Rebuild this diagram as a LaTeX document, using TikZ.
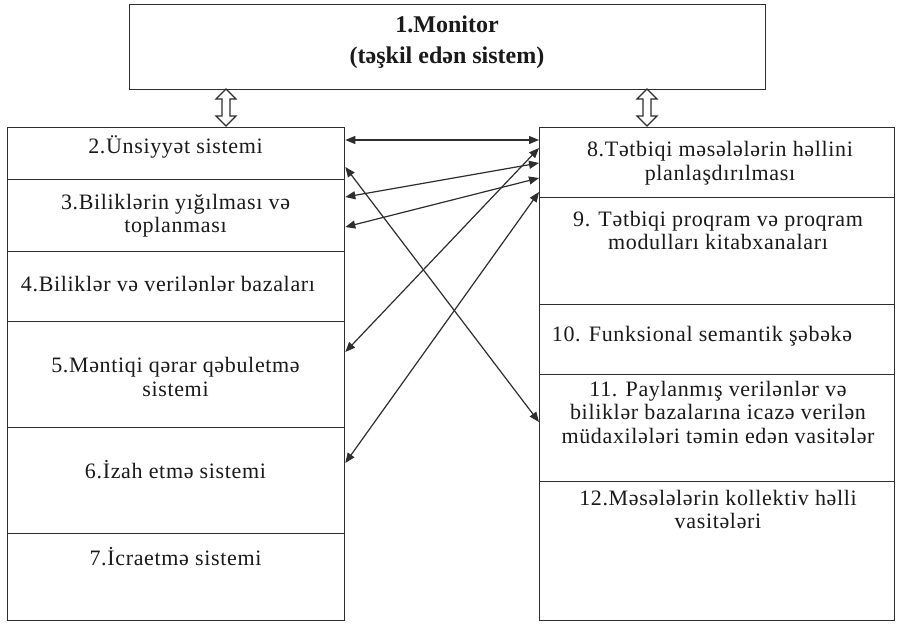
\documentclass[tikz,border=0pt]{standalone}
\usepackage{fontspec}
\setmainfont{Liberation Serif}
\newfontfamily\bodyfont[LetterSpace=3]{Liberation Serif}
\usetikzlibrary{arrows.meta,calc}

\definecolor{ink}{HTML}{1A1A1A}
\definecolor{rule}{HTML}{2E2E2E}

\tikzset{
  box/.style={draw=rule, line width=1.3pt, fill=white, anchor=north west, inner sep=0pt},
  label/.style={align=center, inner sep=0pt, text=ink,
    font=\bodyfont\fontsize{22}{23.5}\selectfont},
  headlabel/.style={align=center, inner sep=0pt, text=ink,
    font=\bfseries\fontsize{24}{31}\selectfont},
  link/.style={draw=rule, line width=1.2pt,
    {Triangle[length=10pt,width=8pt]}-{Triangle[length=10pt,width=8pt]}},
  hollow/.pic={
    \draw[rule, line width=1.1pt, fill=white, line join=miter]
      (0,0) -- (10,10) -- (4,10) -- (4,27) -- (10,27) -- (0,37)
      -- (-10,27) -- (-4,27) -- (-4,10) -- (-10,10) -- cycle;
  }
}

\begin{document}
\begin{tikzpicture}[x=1pt,y=-1pt]
\useasboundingbox (0,0) rectangle (897,625);
\fill[white] (0,0) rectangle (897,625);

% organising monitor
\node[box, minimum width=636pt, minimum height=85pt] (b1) at (129,4) {};
\node[headlabel] (t1) at (447,42) {\strut 1.Monitor\\\strut (təşkil edən sistem)};

% left column
\node[box, minimum width=337pt, minimum height=52pt]  (b2) at (7,127) {};
\node[box, minimum width=337pt, minimum height=72pt]  (b3) at (7,179) {};
\node[box, minimum width=337pt, minimum height=70pt]  (b4) at (7,251) {};
\node[box, minimum width=337pt, minimum height=106pt] (b5) at (7,321) {};
\node[box, minimum width=337pt, minimum height=106pt] (b6) at (7,427) {};
\node[box, minimum width=337pt, minimum height=87pt]  (b7) at (7,533) {};

% right column
\node[box, minimum width=355pt, minimum height=70pt]  (b8)  at (539,127) {};
\node[box, minimum width=355pt, minimum height=107pt] (b9)  at (539,197) {};
\node[box, minimum width=355pt, minimum height=70pt]  (b10) at (539,304) {};
\node[box, minimum width=355pt, minimum height=107pt] (b11) at (539,374) {};
\node[box, minimum width=355pt, minimum height=139pt] (b12) at (539,481) {};

% texts
\node[label] (t2) at (175.5,148) {\strut 2.Ünsiyyət sistemi};
\node[label] (t3) at (175.5,216.5) {\strut 3.Biliklərin yığılması və\\\strut toplanması};
\node[label] (t4) at (168,287) {\strut 4.Biliklər və verilənlər bazaları};
\node[label] (t5) at (175.5,380) {\strut 5.Məntiqi qərar qəbuletmə\\\strut sistemi};
\node[label] (t6) at (175.5,473) {\strut 6.İzah etmə sistemi};
\node[label] (t7) at (175.5,560) {\strut 7.İcraetmə sistemi};

\node[label] (t8)  at (720,164) {\strut 8.Tətbiqi məsələlərin həllini\\\strut planlaşdırılması};
\node[label] (t9)  at (718,233.5) {\strut 9. Tətbiqi proqram və proqram\\\strut modulları kitabxanaları};
\node[label] (t10) at (702,337) {\strut 10. Funksional semantik şəbəkə};
\node[label] (t11) at (718,415) {\strut 11. Paylanmış verilənlər və\\\strut biliklər bazalarına icazə verilən\\\strut müdaxilələri təmin edən vasitələr};
\node[label] (t12) at (718,512.5) {\strut 12.Məsələlərin kollektiv həlli\\\strut vasitələri};

% hollow two-way arrows between the monitor and the columns
\pic at (226,89) {hollow};
\pic at (647,89) {hollow};

% connector end points on the column edges
\coordinate (La) at ([yshift=-13pt]b2.north east);
\coordinate (Lb) at ([yshift=-40pt]b2.north east);
\coordinate (Lc) at ([yshift=-18pt]b3.north east);
\coordinate (Ld) at ([yshift=-48pt]b3.north east);
\coordinate (Le) at ([yshift=-31pt]b5.north east);
\coordinate (Lf) at ([yshift=-36pt]b6.north east);

\coordinate (Ra) at ([yshift=-13pt]b8.north west);
\coordinate (Re) at ([yshift=-21pt]b8.north west);
\coordinate (Rc) at ([yshift=-36pt]b8.north west);
\coordinate (Rd) at ([yshift=-51pt]b8.north west);
\coordinate (Rf) at ([yshift=-65pt]b8.north west);
\coordinate (Rb) at ([yshift=-48pt]b11.north west);

\draw[link] (La) -- (Ra);
\draw[link] (Lb) -- (Rb);
\draw[link] (Lc) -- (Rc);
\draw[link] (Ld) -- (Rd);
\draw[link] (Le) -- (Re);
\draw[link] (Lf) -- (Rf);
\end{tikzpicture}
\end{document}
